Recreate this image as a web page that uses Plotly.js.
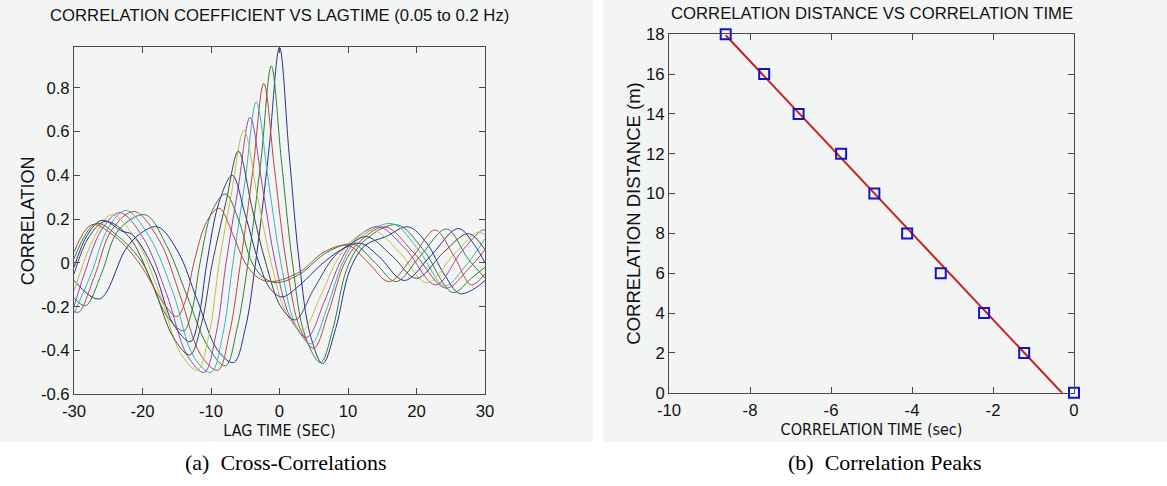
<!DOCTYPE html>
<html>
<head>
<meta charset="utf-8">
<script src="https://cdn.plot.ly/plotly-3.0.1.min.js"></script>
<style>
html,body{margin:0;padding:0;background:#fff;}
#chart{width:1167px;height:486px;}
</style>
</head>
<body>
<div id="chart"></div>
<script>
// ---------- Panel (a): cross-correlation curves (lag time in s, correlation) ----------
const lag0  = [-30,-26.3,-22.5,-20.5,-17.8,-14.8,-12,-9,-6.7,-5,-3.5,-1.6,0,1.4,2.9,4.5,6.3,8.2,10.3,12.5,15.5,18.8,21.5,24,26.3,28.3,30];
const corr0 = [-0.08,-0.165,0.06,0.13,0.165,0.05,-0.17,-0.40,-0.455,-0.30,0.0,0.5,0.985,0.5,0.0,-0.33,-0.46,-0.30,-0.03,0.08,0.12,0.165,0.09,-0.05,-0.14,-0.12,-0.08];

const lag1  = [-30,-28.3,-26,-23.5,-19.6,-16.5,-13.5,-10.5,-7.9,-6.2,-4.6,-2.7,-1.2,0.3,1.9,3.7,6.0,7.8,9.8,12,17.1,21,25.3,28,30];
const corr1 = [-0.16,-0.195,-0.05,0.15,0.22,0.08,-0.15,-0.38,-0.47,-0.30,0.0,0.47,0.90,0.46,0.0,-0.33,-0.455,-0.30,-0.03,0.09,0.175,0.06,-0.135,-0.07,-0.02];

const lag2  = [-30,-29.3,-27,-24.5,-21.2,-17.5,-14.5,-11.5,-9.0,-7.3,-5.7,-3.9,-2.3,-0.7,1.0,3.0,5.0,7.2,9.5,11.5,15.4,19.5,24.3,27.5,30];
const corr2 = [-0.22,-0.225,-0.06,0.15,0.235,0.1,-0.15,-0.42,-0.49,-0.32,0.0,0.42,0.82,0.42,0.0,-0.30,-0.39,-0.22,0.0,0.09,0.165,0.05,-0.115,-0.03,0.06];

const lag3  = [-30,-27.5,-25,-22.4,-19,-15.5,-12.5,-10.0,-8.3,-6.8,-5.0,-3.4,-1.6,0.2,2.3,4.6,7,9.2,11.2,16.4,20.5,24.1,27,30];
const corr3 = [-0.23,-0.05,0.16,0.24,0.12,-0.14,-0.43,-0.50,-0.33,0.0,0.38,0.735,0.37,0.0,-0.28,-0.37,-0.20,0.0,0.10,0.18,0.05,-0.105,-0.02,0.11];

const lag4  = [-30,-28.5,-26,-23.3,-20,-16.5,-13.5,-11.0,-9.3,-7.8,-6.0,-4.3,-2.4,-0.6,1.6,4.0,6.5,8.8,10.8,14.4,18.5,22.8,26.5,29.6,30];
const corr4 = [-0.20,-0.05,0.15,0.23,0.12,-0.14,-0.42,-0.50,-0.33,0.0,0.35,0.665,0.33,0.0,-0.25,-0.34,-0.18,0.0,0.10,0.166,0.06,-0.10,0.05,0.15,0.15];

const lag5  = [-30,-27,-24.5,-21,-17.5,-14.5,-12.0,-10.3,-8.8,-7.0,-5.2,-3.2,-1.2,1.0,3.3,6,8.5,10.5,13.6,17.5,21.5,25.5,28.9,30];
const corr5 = [-0.13,0.12,0.22,0.11,-0.14,-0.41,-0.49,-0.33,0.0,0.32,0.605,0.30,0.0,-0.23,-0.31,-0.15,0.02,0.10,0.15,0.05,-0.09,0.04,0.14,0.13];

const lag6  = [-30,-27.8,-25.4,-22,-18.5,-15.5,-13.1,-11.4,-9.8,-7.8,-6.0,-4.0,-2.0,0.2,2.3,5,8,10.5,12.8,16.5,20.0,24,27.6,30];
const corr6 = [-0.05,0.12,0.19,0.12,-0.10,-0.34,-0.42,-0.28,0.0,0.28,0.51,0.25,0.0,-0.20,-0.26,-0.12,0.03,0.09,0.12,0.03,-0.07,0.05,0.134,0.06];

const lag7  = [-30,-28,-25.9,-23,-21.5,-18.5,-15.5,-13.0,-11.8,-10.6,-8.8,-6.9,-5,-3.0,-1.3,0.4,3,6,9,11.8,14.5,18.2,22,26.1,28.5,30];
const corr7 = [-0.02,0.13,0.195,0.145,0.13,-0.02,-0.28,-0.36,-0.25,0.0,0.28,0.40,0.22,0.0,-0.12,-0.155,-0.10,-0.01,0.06,0.09,0.03,-0.08,0.03,0.157,0.08,0.0];

const lag8  = [-30,-26.8,-23.5,-20,-16.5,-14.0,-12.8,-11.6,-9.8,-7.9,-6,-4.0,-2.2,-0.3,3,7,10.8,14,17.0,20.5,24.4,27.5,30];
const corr8 = [0.02,0.18,0.12,0.0,-0.24,-0.31,-0.22,0.0,0.24,0.315,0.20,0.0,-0.07,-0.09,-0.05,0.05,0.085,0.0,-0.085,0.03,0.155,0.02,-0.07];

const lag9  = [-30,-27.4,-24,-20.5,-17,-15.0,-13.7,-12.5,-10.6,-8.8,-6.8,-5.0,-3,-1.0,3,6.5,10.0,13,16.0,19.5,22.7,25.5,28,30];
const corr9 = [0.05,0.175,0.12,0.0,-0.18,-0.245,-0.17,0.0,0.19,0.25,0.13,0.0,-0.07,-0.085,-0.04,0.05,0.08,0.0,-0.085,0.03,0.15,0.03,-0.10,-0.05];

const lagSeries  = [lag0, lag1, lag2, lag3, lag4, lag5, lag6, lag7, lag8, lag9];
const corrSeries = [corr0, corr1, corr2, corr3, corr4, corr5, corr6, corr7, corr8, corr9];
const curveColors = ['#23308c','#2f7f35','#b8473c','#3fb0c4','#9c45a3','#c4bd45','#444444','#23308c','#2f7f35','#b8473c'];

const lagTicks     = [-30,-20,-10,0,10,20,30];
const lagTickText  = ['-30','-20','-10','0','10','20','30'];
const corrTicks    = [-0.6,-0.4,-0.2,0,0.2,0.4,0.6,0.8];
const corrTickText = ['-0.6','-0.4','-0.2','0','0.2','0.4','0.6','0.8'];

// ---------- Panel (b): correlation peaks ----------
const peakTime = [-8.60,-7.65,-6.80,-5.75,-4.93,-4.12,-3.29,-2.22,-1.23,0.0];
const peakDist = [18,16,14,12,10,8,6,4,2,0];
const fitTime  = [-8.6, 0];
const fitDist  = [17.95, -0.65];

const timeTicks    = [-10,-8,-6,-4,-2,0];
const timeTickText = ['-10','-8','-6','-4','-2','0'];
const distTicks    = [0,2,4,6,8,10,12,14,16,18];
const distTickText = ['0','2','4','6','8','10','12','14','16','18'];

// ---------- traces ----------
const traces = [];
for (let i = 0; i < lagSeries.length; i++) {
  traces.push({
    x: lagSeries[i], y: corrSeries[i], type: 'scatter', mode: 'lines',
    line: {color: curveColors[i], width: 1, shape: 'spline', smoothing: 1},
    xaxis: 'x', yaxis: 'y', hoverinfo: 'skip', showlegend: false
  });
}
traces.push({
  x: fitTime, y: fitDist, type: 'scatter', mode: 'lines',
  line: {color: '#c81e1e', width: 2},
  xaxis: 'x2', yaxis: 'y2', showlegend: false
});
traces.push({
  x: peakTime, y: peakDist, type: 'scatter', mode: 'markers',
  marker: {symbol: 'square-open', size: 10, color: '#1414c4', line: {width: 2, color: '#1414c4'}},
  cliponaxis: false,
  xaxis: 'x2', yaxis: 'y2', showlegend: false
});

const W = 1167, H = 486;
const px = v => v / W;
const py = v => 1 - v / H;
const font = 'Liberation Sans, Arial, Helvetica, sans-serif';
const narrow = 'Liberation Sans Narrow, Arial Narrow, DejaVu Sans Condensed, Liberation Sans, sans-serif';

const axisCommon = {
  showline: true, linecolor: '#4a4a4a', linewidth: 1, mirror: 'ticks',
  ticks: 'inside', ticklen: 6, tickwidth: 1, tickcolor: '#4a4a4a',
  showgrid: false, zeroline: false, fixedrange: true,
  tickfont: {family: font, size: 16.7, color: '#111'}
};

const layout = {
  width: W, height: H,
  margin: {l: 0, r: 0, t: 0, b: 0},
  paper_bgcolor: '#ffffff',
  plot_bgcolor: '#f8fafa',
  showlegend: false,
  xaxis: Object.assign({}, axisCommon, {
    domain: [px(74), px(485)], range: [-30, 30],
    tickmode: 'array', tickvals: lagTicks, ticktext: lagTickText,
    ticklabelstandoff: 2,
    anchor: 'y',
    title: {text: 'LAG TIME (SEC)', font: {family: narrow, size: 16, color: '#111'}, standoff: 4}
  }),
  yaxis: Object.assign({}, axisCommon, {
    domain: [py(394.3), py(47.3)], range: [-0.6, 0.985],
    tickmode: 'array', tickvals: corrTicks, ticktext: corrTickText,
    anchor: 'x',
    title: {text: 'CORRELATION', font: {family: font, size: 18, color: '#111'}, standoff: 1}
  }),
  xaxis2: Object.assign({}, axisCommon, {
    domain: [px(669), px(1074)], range: [-10, 0],
    tickmode: 'array', tickvals: timeTicks, ticktext: timeTickText,
    ticklabelstandoff: 2,
    anchor: 'y2',
    title: {text: 'CORRELATION TIME (sec)', font: {family: narrow, size: 16, color: '#111'}, standoff: 4}
  }),
  yaxis2: Object.assign({}, axisCommon, {
    domain: [py(392.7), py(34.3)], range: [0, 18],
    tickmode: 'array', tickvals: distTicks, ticktext: distTickText,
    anchor: 'x2',
    title: {text: 'CORRELATION DISTANCE (m)', font: {family: font, size: 18.5, color: '#111'}, standoff: 0}
  }),
  shapes: [
    {type: 'rect', xref: 'paper', yref: 'paper', x0: 0, x1: px(593), y0: py(442), y1: 1,
     fillcolor: '#f3f5f5', line: {width: 0}, layer: 'below'},
    {type: 'rect', xref: 'paper', yref: 'paper', x0: px(603), x1: 1, y0: py(442), y1: 1,
     fillcolor: '#f3f5f5', line: {width: 0}, layer: 'below'}
  ],
  annotations: [
    {text: 'CORRELATION COEFFICIENT VS LAGTIME (0.05 to 0.2 Hz)', xref: 'paper', yref: 'paper',
     x: px(279.5), y: py(15), xanchor: 'center', yanchor: 'middle', showarrow: false,
     font: {family: font, size: 16.7, color: '#111'}},
    {text: 'CORRELATION DISTANCE VS CORRELATION TIME', xref: 'paper', yref: 'paper',
     x: px(871.5), y: py(14), xanchor: 'center', yanchor: 'middle', showarrow: false,
     font: {family: font, size: 16.7, color: '#111'}},
    {text: '(a)  Cross-Correlations', xref: 'paper', yref: 'paper',
     x: px(286), y: py(462), xanchor: 'center', yanchor: 'middle', showarrow: false,
     font: {family: 'Liberation Serif, Times New Roman, serif', size: 22, color: '#000'}},
    {text: '(b)  Correlation Peaks', xref: 'paper', yref: 'paper',
     x: px(885), y: py(462), xanchor: 'center', yanchor: 'middle', showarrow: false,
     font: {family: 'Liberation Serif, Times New Roman, serif', size: 22, color: '#000'}}
  ]
};

Plotly.newPlot('chart', traces, layout, {staticPlot: true, displayModeBar: false});
</script>
</body>
</html>
